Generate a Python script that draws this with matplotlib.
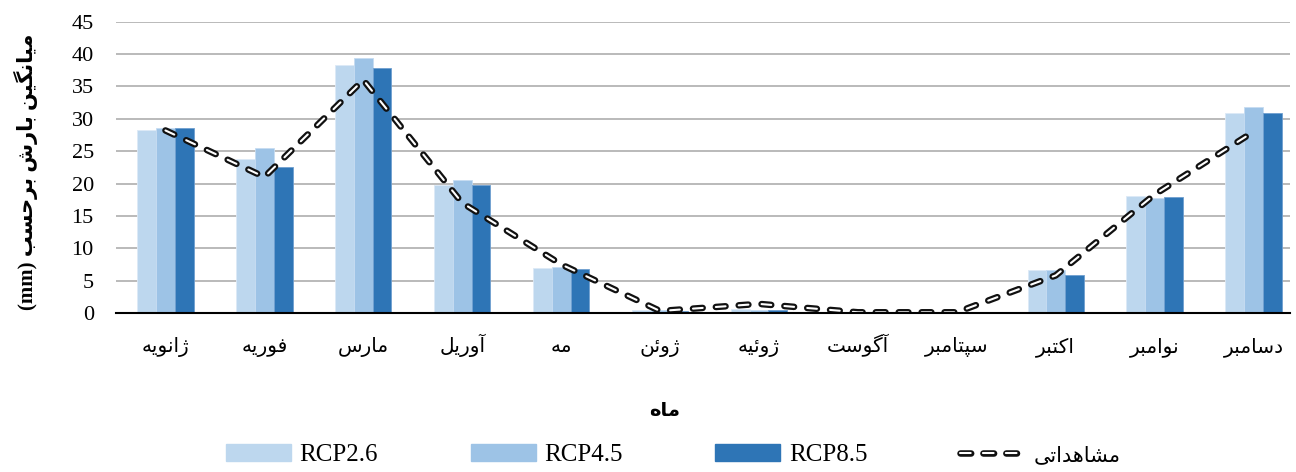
import matplotlib
matplotlib.use('Agg')
import matplotlib.pyplot as plt
from matplotlib.lines import Line2D
from matplotlib.patches import Patch
from matplotlib.legend_handler import HandlerTuple
import numpy as np

plt.rcParams['lines.scale_dashes'] = False

months = ['ژانویه', 'فوریه', 'مارس', 'آوریل', 'مه', 'ژوئن',
          'ژوئیه', 'آگوست', 'سپتامبر', 'اکتبر', 'نوامبر', 'دسامبر']
rcp26 = [28.2, 23.8, 38.3, 19.8, 7.0, 0.5, 0.6, 0.1, 0.1, 6.7, 18.0, 30.9]
rcp45 = [28.6, 25.5, 39.4, 20.6, 7.1, 0.4, 0.5, 0.1, 0.1, 6.7, 17.7, 31.8]
rcp85 = [28.5, 22.5, 37.9, 19.7, 6.8, 0.3, 0.5, 0.1, 0.2, 5.9, 17.9, 30.9]
observed = [28.2, 21.0, 36.0, 17.0, 7.5, 0.3, 1.4, 0.1, 0.1, 5.8, 18.3, 28.0]
yticks = [0, 5, 10, 15, 20, 25, 30, 35, 40, 45]

# persian letters -> (isolated, final, initial, medial); None = does not join forward
FORMS = {
    'ا': ('\uFE8D', '\uFE8E', None, None),
    'آ': ('\uFE81', '\uFE82', None, None),
    'د': ('\uFEA9', '\uFEAA', None, None),
    'ر': ('\uFEAD', '\uFEAE', None, None),
    'ژ': ('\uFB8A', '\uFB8B', None, None),
    'و': ('\uFEED', '\uFEEE', None, None),
    'ن': ('\uFEE5', '\uFEE6', '\uFEE7', '\uFEE8'),
    'ی': ('\uFBFC', '\uFBFD', '\uFBFE', '\uFBFF'),
    'ه': ('\uFEE9', '\uFEEA', '\uFEEB', '\uFEEC'),
    'ف': ('\uFED1', '\uFED2', '\uFED3', '\uFED4'),
    'م': ('\uFEE1', '\uFEE2', '\uFEE3', '\uFEE4'),
    'س': ('\uFEB1', '\uFEB2', '\uFEB3', '\uFEB4'),
    'ل': ('\uFEDD', '\uFEDE', '\uFEDF', '\uFEE0'),
    'ئ': ('\uFE89', '\uFE8A', '\uFE8B', '\uFE8C'),
    'گ': ('\uFB92', '\uFB93', '\uFB94', '\uFB95'),
    'ت': ('\uFE95', '\uFE96', '\uFE97', '\uFE98'),
    'پ': ('\uFB56', '\uFB57', '\uFB58', '\uFB59'),
    'ب': ('\uFE8F', '\uFE90', '\uFE91', '\uFE92'),
    'ک': ('\uFB8E', '\uFB8F', '\uFB90', '\uFB91'),
    'ش': ('\uFEB5', '\uFEB6', '\uFEB7', '\uFEB8'),
    'ح': ('\uFEA1', '\uFEA2', '\uFEA3', '\uFEA4'),
}


def fa(text):
    # shape persian letters and return them in visual (left to right) order
    out = []
    for i, ch in enumerate(text):
        if ch not in FORMS:
            out.append(ch)
            continue
        prev = text[i - 1] if i > 0 else ''
        nxt = text[i + 1] if i + 1 < len(text) else ''
        join_prev = prev in FORMS and FORMS[prev][2] is not None
        join_next = nxt in FORMS and FORMS[ch][2] is not None
        iso, fin, ini, med = FORMS[ch]
        if join_prev and join_next:
            out.append(med)
        elif join_prev:
            out.append(fin)
        elif join_next:
            out.append(ini)
        else:
            out.append(iso)
    return ''.join(out)[::-1]


c26 = '#BDD7EE'
c45 = '#9DC3E6'
c85 = '#2E75B6'
serif = ['Liberation Serif', 'DejaVu Sans']
dash = (7, 9.5)

fig = plt.figure(figsize=(12.96, 4.72), dpi=100)
ax = fig.add_axes([0.0895, 0.337, 0.906, 0.617])

x = np.arange(len(months))
w = 0.19
ax.bar(x - w, rcp26, w, color=c26, edgecolor='#dce9f6', linewidth=0.6, zorder=2)
ax.bar(x, rcp45, w, color=c45, edgecolor='#c6dcf1', linewidth=0.6, zorder=2)
ax.bar(x + w, rcp85, w, color=c85, edgecolor='#6f9fd0', linewidth=0.6, zorder=2)

ax.plot(x, observed, color='#111111', lw=4.7, dashes=dash,
        dash_capstyle='round', zorder=3)
ax.plot(x, observed, color='white', lw=1.5, dashes=dash,
        dash_capstyle='round', zorder=4)

ax.set_ylim(0, 45)
ax.set_xlim(-0.5, 11.37)
ax.set_yticks(yticks)
ax.set_yticklabels([str(v) for v in yticks], family=serif, fontsize=16)
ax.set_xticks(x)
ax.set_xticklabels([fa(m) for m in months], family='DejaVu Sans', fontsize=14.5)
for lab in ax.get_xticklabels():
    lab.set_verticalalignment('baseline')
ax.tick_params(axis='both', length=0)
ax.tick_params(axis='y', pad=16)
ax.tick_params(axis='x', pad=28)
ax.grid(axis='y', color='#b4b4b4', lw=1.3, zorder=0)
for s in ['left', 'right', 'top']:
    ax.spines[s].set_visible(False)
ax.spines['bottom'].set_color('black')
ax.spines['bottom'].set_linewidth(1.5)
ax.spines['bottom'].set_zorder(5)

fig.text(0.02, 0.635, '(mm) ' + fa('میانگین بارش برحسب'),
         rotation=90, ha='center', va='center', fontsize=15,
         fontweight='bold', family=serif)
fig.text(0.513, 0.13, fa('ماه'), ha='center', va='center', fontsize=14,
         fontweight='bold', family='DejaVu Sans')

h_obs = (Line2D([], [], color='#111111', lw=4.7, dashes=(7.7, 8.8), dash_capstyle='round'),
         Line2D([], [], color='white', lw=1.5, dashes=(7.7, 8.8), dash_capstyle='round'))
handles = [Patch(color=c26), Patch(color=c45), Patch(color=c85), h_obs]
labels = ['RCP2.6', 'RCP4.5', 'RCP8.5', fa('مشاهداتی')]
leg = fig.legend(handles, labels, loc='center', bbox_to_anchor=(0.5195, 0.036),
                 ncol=4, frameon=False, handlelength=2.6, handleheight=0.7,
                 columnspacing=3.7, handletextpad=0.35,
                 handler_map={tuple: HandlerTuple(ndivide=1)},
                 prop={'family': serif, 'size': 18})
leg.get_texts()[3].set_fontsize(15)

fig.savefig('out.png', dpi=100)
